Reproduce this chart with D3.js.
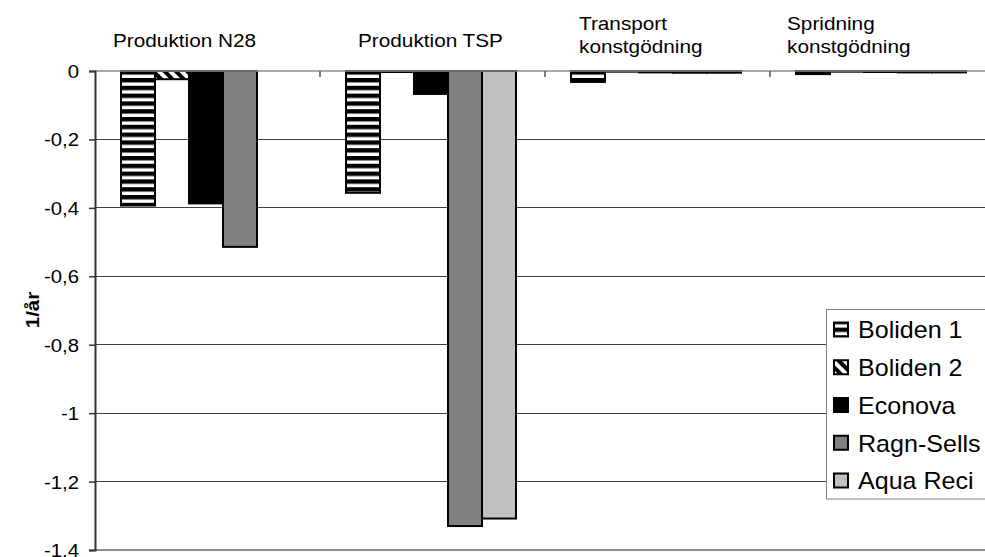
<!DOCTYPE html>
<html><head><meta charset="utf-8">
<script src="https://cdn.jsdelivr.net/npm/d3@7"></script>
<style>
html,body{margin:0;padding:0;background:#fff;overflow:hidden}
text{font-family:"Liberation Sans",Arial,sans-serif;fill:#000}
</style></head><body>
<svg id="c" width="985" height="557"></svg>
<script>
// ---- data ----
const categories = [["Produktion N28"], ["Produktion TSP"], ["Transport", "konstgödning"], ["Spridning", "konstgödning"]];
const series = ["Boliden 1", "Boliden 2", "Econova", "Ragn-Sells", "Aqua Reci"];
const boliden1  = [-0.393, -0.356, -0.032, -0.009];
const boliden2  = [-0.024, -0.003, -0.002, -0.002];
const econova   = [-0.387, -0.067, -0.004, -0.003];
const ragnSells = [-0.514, -1.330, -0.005, -0.004];
const aquaReci  = [0,      -1.308, -0.005, -0.004];
const yTicks = [0, -0.2, -0.4, -0.6, -0.8, -1, -1.2, -1.4];

// ---- layout ----
const svg = d3.select("#c");
const W = 985, H = 557;
const plotLeft = 95, plotRight = 995, y0 = 71, y1 = 550;
const SX = 1.1; // horizontal stretch of the original text
const labelOffset = [18, 38, 34, 17];

const values = [boliden1, boliden2, econova, ragnSells, aquaReci];
const catIdx = categories.map((d, i) => i);
const x0 = d3.scaleBand().domain(catIdx).range([plotLeft, plotRight]);
const x1 = d3.scaleBand().domain(series).range([26, 26 + 170]);
const y = d3.scaleLinear().domain([-1.4, 0]).range([y1, y0]);

// patterns
const defs = svg.append("defs");
const p1 = defs.append("pattern").attr("id", "hstripe").attr("patternUnits", "userSpaceOnUse")
  .attr("width", 8).attr("height", 7.8);
p1.append("rect").attr("width", 8).attr("height", 7.8).attr("fill", "#fff");
p1.append("rect").attr("y", 0).attr("width", 8).attr("height", 4.4).attr("fill", "#000");
const p2 = defs.append("pattern").attr("id", "dstripe").attr("patternUnits", "userSpaceOnUse")
  .attr("width", 8).attr("height", 8).attr("patternTransform", "rotate(-45)");
p2.append("rect").attr("width", 8).attr("height", 8).attr("fill", "#fff");
p2.append("rect").attr("width", 4).attr("height", 8).attr("fill", "#000");
const fills = ["url(#hstripe)", "url(#dstripe)", "#000000", "#808080", "#c0c0c0"];
const color = d3.scaleOrdinal().domain(series).range(fills);

// gridlines
svg.append("g").selectAll("line").data(yTicks.filter(t => t !== 0 && t !== -1.4)).join("line")
  .attr("x1", plotLeft).attr("x2", W).attr("y1", d => y(d)).attr("y2", d => y(d))
  .attr("stroke", "#404040").attr("stroke-width", 1).attr("shape-rendering", "crispEdges");

// bottom line
svg.append("line").attr("x1", plotLeft).attr("x2", W).attr("y1", y(-1.4)).attr("y2", y(-1.4))
  .attr("stroke", "#8c8c8c").attr("stroke-width", 2);

// bars
const data = [];
categories.forEach((c, ci) => series.forEach((s, si) => {
  const v = values[si][ci];
  if (v !== 0) data.push({ci, s, v});
}));
svg.append("g").selectAll("rect").data(data).join("rect")
  .attr("x", d => x0(d.ci) + x1(d.s))
  .attr("width", x1.bandwidth())
  .attr("y", y(0))
  .attr("height", d => Math.max(0.5, y(d.v) - y(0)))
  .attr("fill", d => color(d.s))
  .attr("stroke", "#000").attr("stroke-width", 2);

// category axis at zero
svg.append("line").attr("x1", plotLeft).attr("x2", W).attr("y1", y(0)).attr("y2", y(0))
  .attr("stroke", "#8c8c8c").attr("stroke-width", 1.5);
svg.append("g").selectAll("line").data(catIdx.slice(1)).join("line")
  .attr("x1", d => x0(d)).attr("x2", d => x0(d)).attr("y1", y(0)).attr("y2", y(0) + 6)
  .attr("stroke", "#555").attr("stroke-width", 1.5);

// y axis
const yAxis = d3.axisLeft(y).tickValues(yTicks).tickSize(6).tickFormat(d => String(d).replace(".", ","));
const ya = svg.append("g").attr("transform", `translate(${plotLeft},0)`).call(yAxis);
ya.select(".domain").attr("stroke", "#333").attr("stroke-width", 2);
ya.selectAll(".tick line").attr("stroke", "#333").attr("stroke-width", 1.5);
ya.selectAll(".tick text").attr("font-size", 18.5).attr("x", 0).attr("dy", "0.35em")
  .attr("transform", "translate(-16,0) scale(" + SX + ",1)")
  .style("font-family", '"Liberation Sans",Arial,sans-serif').attr("fill", "#000");

// y title
svg.append("text").attr("transform", "translate(39,310) rotate(-90) scale(1.08,1)")
  .attr("text-anchor", "middle").attr("font-size", 19).attr("font-weight", "bold").text("1/år");

// category labels
categories.forEach((lines, ci) => {
  const t = svg.append("text").attr("font-size", 18.5)
    .attr("transform", `translate(${x0(ci) + labelOffset[ci]},0) scale(${SX * 1.02},1)`);
  const base = lines.length === 1 ? [47] : [30, 53];
  lines.forEach((l, li) => t.append("tspan").attr("x", 0).attr("y", base[li]).text(l));
});

// legend
const lg = svg.append("g");
lg.append("rect").attr("x", 826.5).attr("y", 309.5).attr("width", 170).attr("height", 189.5)
  .attr("fill", "#fff").attr("stroke", "#808080").attr("stroke-width", 1);
const ly = d3.scalePoint().domain(series).range([330, 481]);
const li = lg.selectAll("g.it").data(series).join("g").attr("class", "it");
li.append("rect").attr("x", 834).attr("y", d => ly(d) - 7.5).attr("width", 14).attr("height", 14)
  .attr("fill", d => color(d)).attr("stroke", "#000").attr("stroke-width", 2);
li.append("text").attr("font-size", 23).attr("dy", "0.36em")
  .attr("transform", d => `translate(858,${ly(d)}) scale(1.09,1)`).text(d => d);
</script>
</body></html>
